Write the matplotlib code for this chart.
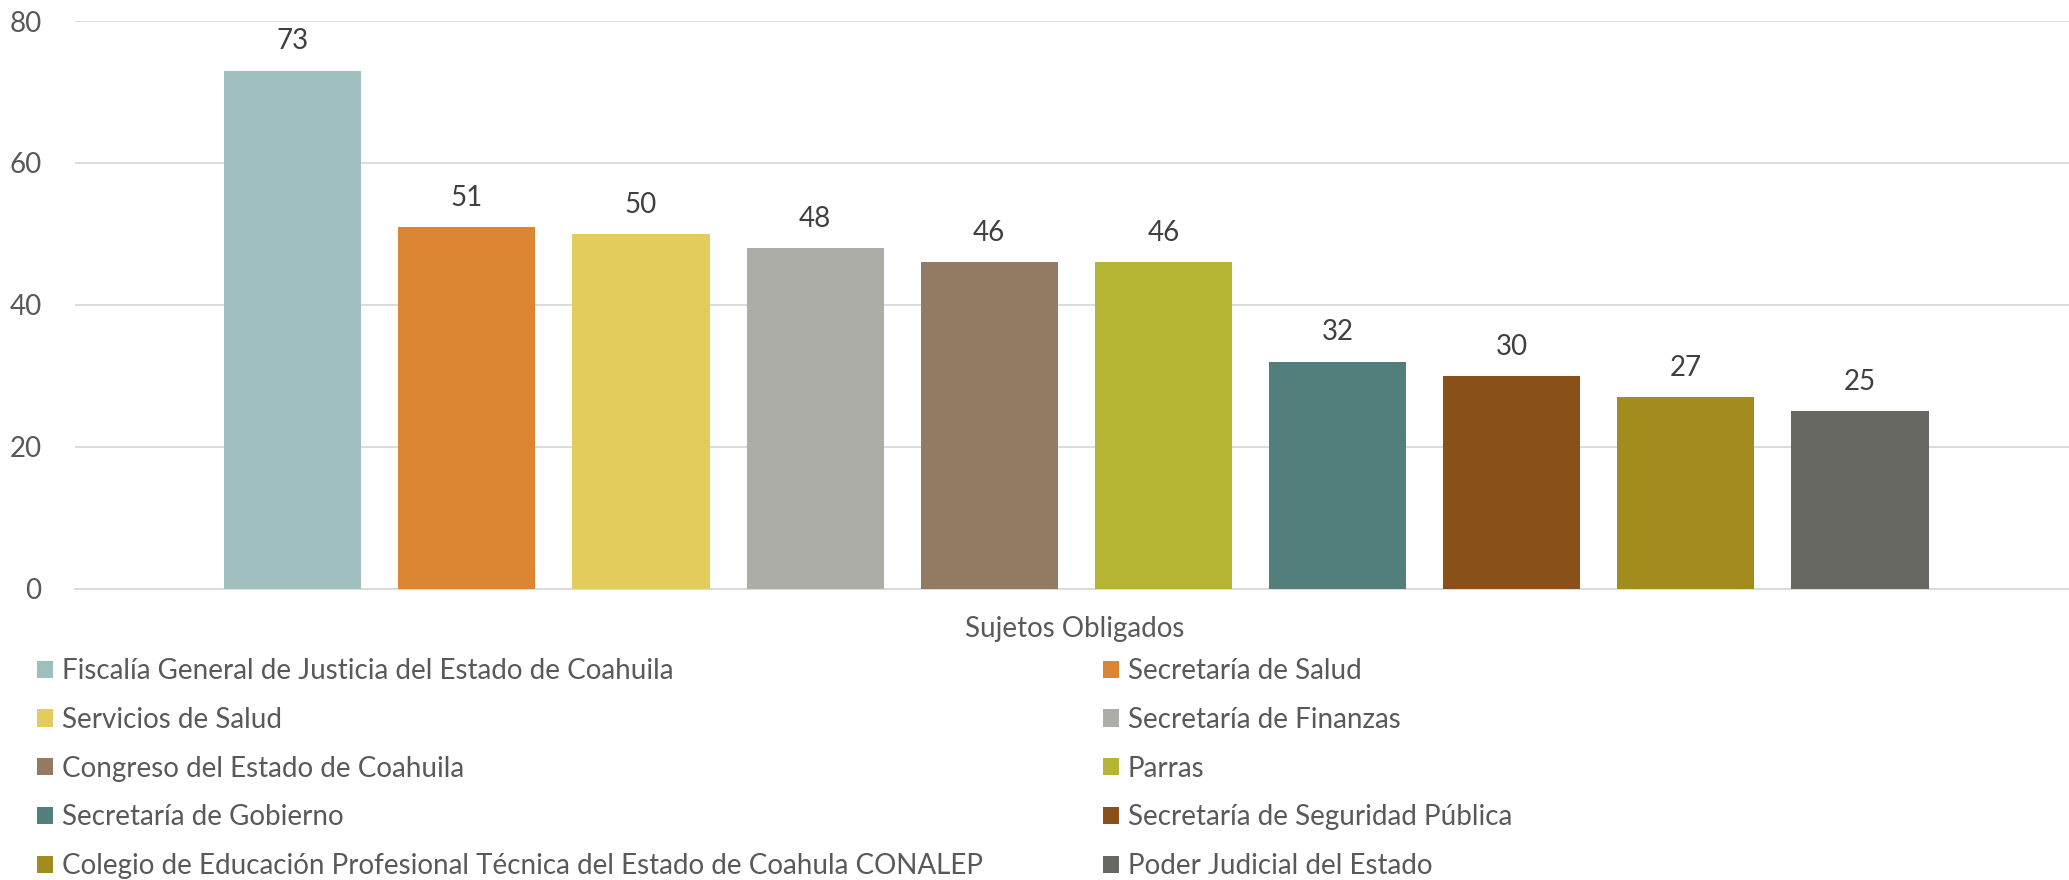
import matplotlib
matplotlib.use("Agg")
import matplotlib.pyplot as plt
from matplotlib.patches import Patch

plt.rcParams["font.family"] = ["Lato", "DejaVu Sans"]

sujetos = [
    "Fiscalía General de Justicia del Estado de Coahuila",
    "Secretaría de Salud",
    "Servicios de Salud",
    "Secretaría de Finanzas",
    "Congreso del Estado de Coahuila",
    "Parras",
    "Secretaría de Gobierno",
    "Secretaría de Seguridad Pública",
    "Colegio de Educación Profesional Técnica del Estado de Coahula CONALEP",
    "Poder Judicial del Estado",
]
valores = [73, 51, 50, 48, 46, 46, 32, 30, 27, 25]
colores = [
    "#9FBFBE", "#DC8633", "#E3CB5C", "#ADADA8", "#927B62",
    "#B5B435", "#527E7C", "#8A5019", "#A38C1E", "#676861",
]
eje_titulo = "Sujetos Obligados"
y_ticks = [0, 20, 40, 60, 80]

fs = 20

fig = plt.figure(figsize=(20.69, 8.80), dpi=100)
ax = fig.add_axes([75 / 2069, 1 - 588.5 / 880, 1 - 75 / 2069, (588.5 - 21) / 880])

posiciones = list(range(len(valores)))
bars = ax.bar(posiciones, valores, width=0.787, color=colores, zorder=3)

# etiquetas de datos encima de cada barra
for pos, val in zip(posiciones, valores):
    ax.annotate(
        str(val),
        xy=(pos, val),
        xytext=(0, 21),
        textcoords="offset points",
        ha="center",
        va="center",
        fontsize=fs,
        color="#404040",
    )

ax.set_xlim(-1.25, 10.2)
ax.set_ylim(0, 80)
ax.set_yticks(y_ticks)
ax.set_xticks([])
ax.grid(axis="y", color="#D9D9D9", linewidth=1.3, zorder=0)
for side in ["top", "right", "left"]:
    ax.spines[side].set_visible(False)
ax.spines["bottom"].set_color("#D9D9D9")
ax.spines["bottom"].set_linewidth(1.3)
ax.tick_params(axis="y", length=0, pad=24, labelsize=fs, labelcolor="#595959")

fig.text(1075 / 2069, 1 - 629 / 880, eje_titulo, ha="center", va="center",
         fontsize=fs, color="#595959")

handles = [Patch(facecolor=c, edgecolor="none") for c in colores]
legend_kw = dict(
    frameon=False,
    loc="upper left",
    fontsize=fs,
    labelcolor="#595959",
    handlelength=0.58,
    handleheight=0.58,
    handletextpad=0.32,
    labelspacing=0.82,
    borderaxespad=0,
    borderpad=0,
)
fig.legend([handles[i] for i in range(0, 10, 2)], [sujetos[i] for i in range(0, 10, 2)],
           bbox_to_anchor=(37 / 2069, 1 - 658 / 880), **legend_kw)
fig.legend([handles[i] for i in range(1, 10, 2)], [sujetos[i] for i in range(1, 10, 2)],
           bbox_to_anchor=(1103 / 2069, 1 - 658 / 880), **legend_kw)

fig.savefig("out.png", dpi=100, facecolor="white")
